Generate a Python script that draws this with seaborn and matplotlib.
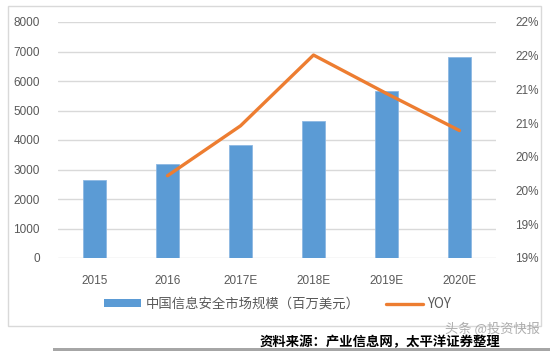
import numpy as np
import pandas as pd
import matplotlib
matplotlib.use("Agg")
import matplotlib.pyplot as plt
import seaborn as sns
from matplotlib.patches import Rectangle
from matplotlib.lines import Line2D
from matplotlib.ticker import FixedLocator, FixedFormatter

# 数据
years = ["2015", "2016", "2017E", "2018E", "2019E", "2020E"]
market_size = [2650, 3190, 3830, 4650, 5650, 6800]
yoy_years = ["2016", "2017E", "2018E", "2019E", "2020E"]
yoy = [19.72, 20.46, 21.51, 20.94, 20.39]
right_ticks = [18.5, 19.0, 19.5, 20.0, 20.5, 21.0, 21.5, 22.0]
right_labels = ["19%", "19%", "20%", "20%", "21%", "21%", "22%", "22%"]
left_ticks = [0, 1000, 2000, 3000, 4000, 5000, 6000, 7000, 8000]

bar_label = "中国信息安全市场规模（百万美元）"
line_label = "YOY"
source_text = "资料来源：产业信息网，太平洋证券整理"
watermark = "头条 @投资快报"

sns.set_style("white")
plt.rcParams['font.family'] = ['Liberation Sans', 'Noto Sans CJK SC', 'DejaVu Sans']

blue = "#5B9BD5"
orange = "#ED7D31"
grey_txt = "#595959"
grid_c = "#D9D9D9"

fig = plt.figure(figsize=(5.5, 3.51), dpi=100)
ax = fig.add_axes([58 / 550, 1 - 258 / 351, (496 - 58) / 550, (258 - 22) / 351])

df = pd.DataFrame({"year": years, "size": market_size})
sns.barplot(data=df, x="year", y="size", ax=ax, color=blue, width=0.31,
            saturation=1, edgecolor="#8DB8E3", linewidth=0.6, zorder=2)
ax.set_xlim(-0.5, len(years) - 0.5)
ax.set_ylim(0, 8000)
ax.yaxis.set_major_locator(FixedLocator(left_ticks))
ax.grid(axis="y", color=grid_c, linewidth=1.0, zorder=0)
ax.set_axisbelow(True)
for s in ax.spines.values():
    s.set_visible(False)
ax.set_xlabel("")
ax.set_ylabel("")
ax.tick_params(axis="both", length=0, labelsize=8.5, colors=grey_txt)
ax.tick_params(axis="y", pad=13)
ax.tick_params(axis="x", pad=12)

ax2 = ax.twinx()
yoy_df = pd.DataFrame({"x": [years.index(y) for y in yoy_years], "yoy": yoy})
sns.lineplot(data=yoy_df, x="x", y="yoy", ax=ax2, color=orange, linewidth=2.4)
ax2.set_ylim(18.5, 22.0)
ax2.yaxis.set_major_locator(FixedLocator(right_ticks))
ax2.yaxis.set_major_formatter(FixedFormatter(right_labels))
ax2.set_ylabel("")
ax2.set_xlabel("")
ax2.grid(False)
for s in ax2.spines.values():
    s.set_visible(False)
ax2.tick_params(axis="y", length=0, labelsize=8.5, colors=grey_txt, pad=14)

# 图例
handles = [
    Rectangle((0, 0), 1, 1, facecolor=blue, edgecolor="none"),
    Line2D([0], [0], color=orange, linewidth=2.4),
]
leg = fig.legend(handles, [bar_label, line_label], loc="center",
                 bbox_to_anchor=(0.505, 1 - 304 / 351), ncol=2, frameon=False,
                 handlelength=2.8, handleheight=0.55, columnspacing=2.0,
                 handletextpad=0.3,
                 prop={"family": ["Noto Sans CJK SC", "DejaVu Sans"], "size": 9.6})
for t in leg.get_texts():
    t.set_color(grey_txt)

# 外框
fig.patches.append(Rectangle((8 / 550, 1 - 326 / 351), (541 - 8) / 550, (326 - 6) / 351,
                             transform=fig.transFigure, fill=False,
                             edgecolor=grid_c, linewidth=1.0))
fig.patches.append(Rectangle((53 / 550, 0), 1, 3 / 351, transform=fig.transFigure,
                             facecolor="#A6A6A6", edgecolor="none"))

fig.text(0.982, 1 - 329 / 351, watermark, ha="right", va="center", fontsize=9.5,
         color="#9A9A9A", alpha=0.8, family=["Noto Sans CJK SC", "DejaVu Sans"])
fig.text(380 / 550, 1 - 342 / 351, source_text, ha="center", va="center",
         fontsize=9.6, fontweight="bold", color="black",
         family=["Noto Sans CJK SC", "DejaVu Sans"])

fig.savefig("out.png", dpi=100)
